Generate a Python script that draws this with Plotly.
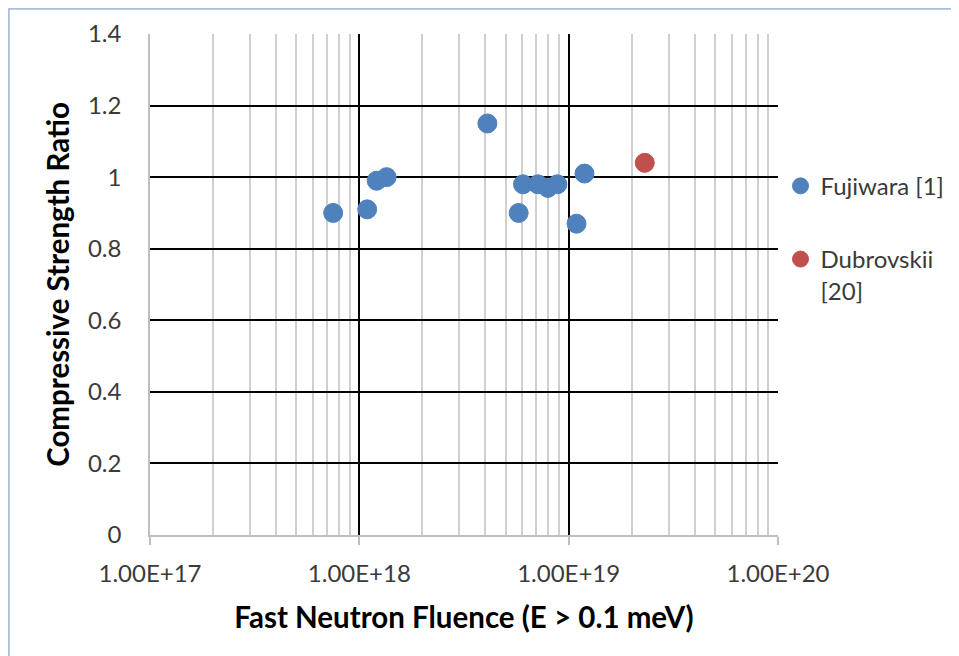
import plotly.graph_objects as go

fuji_x = [7.5e17, 1.09e18, 1.21e18, 1.35e18, 4.09e18, 5.77e18, 6.05e18, 7.13e18, 7.96e18, 8.83e18, 1.09e19, 1.19e19]
fuji_y = [0.90, 0.91, 0.99, 1.00, 1.15, 0.90, 0.98, 0.98, 0.97, 0.98, 0.87, 1.01]
dub_x = [2.31e19]
dub_y = [1.04]

x_tickvals = [1e17, 1e18, 1e19, 1e20]
x_ticktext = ["1.00E+17", "1.00E+18", "1.00E+19", "1.00E+20"]

BLUE = "#4F81BD"
RED = "#C0504D"
FONT = "Lato"
TXT = "#3A3A3A"

fig = go.Figure()
fig.add_trace(go.Scatter(x=fuji_x, y=fuji_y, mode="markers", name="Fujiwara [1]",
                         legendgroup="a",
                         marker=dict(color=BLUE, size=19, line=dict(color=BLUE, width=1))))
fig.add_trace(go.Scatter(x=dub_x, y=dub_y, mode="markers", name="Dubrovskii<br>[20]",
                         legendgroup="b",
                         marker=dict(color=RED, size=19, line=dict(color=RED, width=1))))

OFF = 8  # page body offset
W, H = 959, 656
L, T = 150 - OFF, 34 - OFF
R = 959 - 778 + OFF
B = 656 - 535 + OFF
PW, PH = W - L - R, H - T - B

fig.update_layout(
    width=W, height=H,
    margin=dict(l=L, r=R, t=T, b=B, autoexpand=False),
    paper_bgcolor="white", plot_bgcolor="white",
    font=dict(family=FONT, size=23, color=TXT),
    showlegend=True,
    legend=dict(x=1.004, y=0.741, xanchor="left", yanchor="top",
                traceorder="grouped", tracegroupgap=39, valign="top",
                font=dict(family=FONT, size=24, color=TXT),
                bgcolor="rgba(0,0,0,0)"),
    xaxis=dict(type="log", range=[17, 20],
               tickvals=x_tickvals, ticktext=x_ticktext,
               showgrid=True, gridcolor="black", gridwidth=1.5,
               minor=dict(dtick="D1", showgrid=True, gridcolor="#D0D0D0", gridwidth=1.5, ticks=""),
               showline=True, linecolor="#BFBFBF", linewidth=1.5,
               ticks="outside", ticklen=8, tickcolor="#BFBFBF", tickwidth=1.5,
               ticklabelstandoff=8, automargin=False,
               tickfont=dict(family=FONT, size=24, color=TXT),
               title=dict(text="<b>Fast Neutron Fluence (E > 0.1 meV)</b>",
                          font=dict(family=FONT, size=29.5, color="black"), standoff=22),
               zeroline=False),
    yaxis=dict(range=[0, 1.4], dtick=0.2, tick0=0,
               showgrid=True, gridcolor="black", gridwidth=1.5,
               showline=True, linecolor="#BFBFBF", linewidth=1.5,
               ticks="", ticklen=0, ticklabelstandoff=22, automargin=False,
               tickfont=dict(family=FONT, size=24, color=TXT),
               title=dict(text="<b>Compressive Strength Ratio</b>",
                          font=dict(family=FONT, size=29.5, color="black"), standoff=10),
               zeroline=False),
)

# light blue frame lines (top and left) of the original chart box
bx = (0.5 - L) / PW
by = (H - B - 0.5) / PH
fig.add_shape(type="line", xref="paper", yref="paper",
              x0=bx, x1=(W - L) / PW, y0=by, y1=by,
              line=dict(color="#A9BED8", width=2.5))
fig.add_shape(type="line", xref="paper", yref="paper",
              x0=bx, x1=bx, y0=by, y1=(-B) / PH,
              line=dict(color="#A9BED8", width=2.5))

fig.write_html("out.html")
